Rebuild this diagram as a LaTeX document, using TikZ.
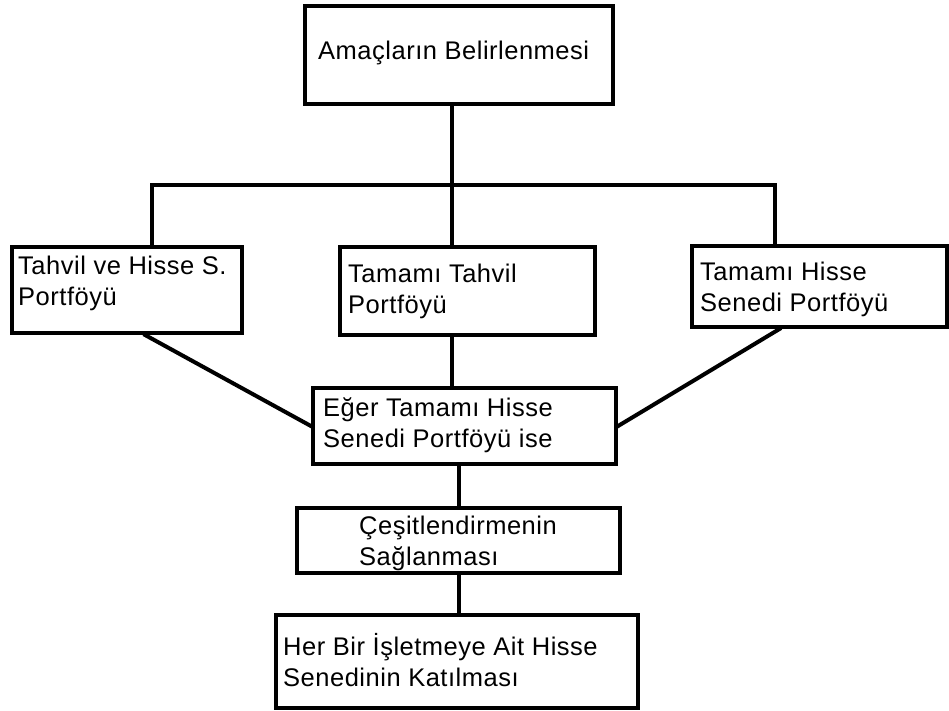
\documentclass[tikz,border=0pt]{standalone}
\usepackage{fontspec}
\setmainfont{Liberation Sans}[LetterSpace=2]
\usetikzlibrary{calc}
\begin{document}
\begin{tikzpicture}[x=1bp,y=-1bp,
  box/.style={draw, line width=4.2bp, rectangle, inner sep=0pt, fill=white},
  wire/.style={line width=4bp, line cap=rect},
  lbl/.style={anchor=base west, inner sep=0pt, font=\fontsize{25.5bp}{31bp}\selectfont}]
\fill[white] (0,0) rectangle (949,711);
\useasboundingbox (0,0) rectangle (949,711);

% frames
\node[box, minimum width=308bp, minimum height=98bp] (top)    at (459,55)     {};
\node[box, minimum width=230bp, minimum height=86bp] (left)   at (127,290)    {};
\node[box, minimum width=255bp, minimum height=88bp] (mid)    at (467.5,291)  {};
\node[box, minimum width=255bp, minimum height=81bp] (right)  at (819.5,286.5){};
\node[box, minimum width=303bp, minimum height=76bp] (egr)    at (464.5,426)  {};
\node[box, minimum width=323bp, minimum height=65bp] (cesit)  at (458.5,540.5){};
\node[box, minimum width=362bp, minimum height=93bp] (bottom) at (457,661.5)  {};

% texts
\node[lbl] (ttop)    at (318,60)  {Amaçların Belirlenmesi};
\node[lbl] (tleft)   at (18,274)  {\begin{tabular}[t]{@{}l@{}}Tahvil ve Hisse S.\\Portföyü\end{tabular}};
\node[lbl] (tmid)    at (348,282) {\begin{tabular}[t]{@{}l@{}}Tamamı Tahvil\\Portföyü\end{tabular}};
\node[lbl] (tright)  at (700,280) {\begin{tabular}[t]{@{}l@{}}Tamamı Hisse\\Senedi Portföyü\end{tabular}};
\node[lbl] (tegr)    at (323,416) {\begin{tabular}[t]{@{}l@{}}Eğer Tamamı Hisse\\Senedi Portföyü ise\end{tabular}};
\node[lbl] (tcesit)  at (359,534) {\begin{tabular}[t]{@{}l@{}}Çeşitlendirmenin\\Sağlanması\end{tabular}};
\node[lbl] (tbottom) at (283,655) {\begin{tabular}[t]{@{}l@{}}Her Bir İşletmeye Ait Hisse\\Senedinin Katılması\end{tabular}};

% branching bus
\coordinate (bus)  at (452,185);
\coordinate (busL) at (152,185);
\coordinate (busR) at (775,185);
\draw[wire] (top.south -| bus) -- (bus);
\draw[wire] (busL) -- (busR);
\draw[wire] (busL) -- (busL |- left.north);
\draw[wire] (bus) -- (bus |- mid.north);
\draw[wire] (busR) -- (busR |- right.north);

% links into the decision box
\draw[wire] (mid.south -| bus) -- (egr.north -| bus);
\draw[wire] ($(left.south west)!0.578!(left.south east)$) -- (egr.west);
\draw[wire] ($(right.south west)!0.345!(right.south east)$) -- (egr.east);

% lower chain
\draw[wire] (egr.south -| cesit.north) -- (cesit.north);
\draw[wire] (cesit.south) -- (cesit.south |- bottom.north);
\end{tikzpicture}
\end{document}
